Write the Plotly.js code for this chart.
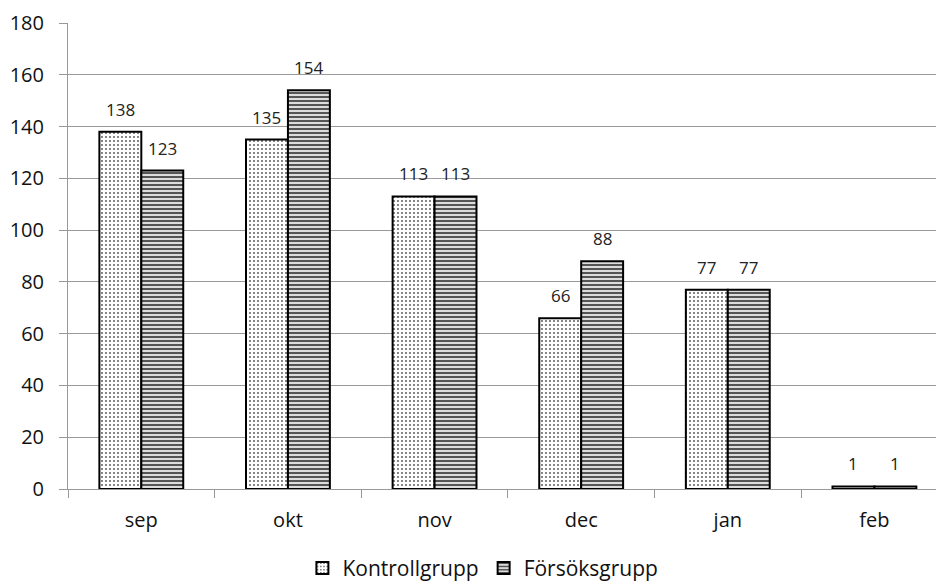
<!DOCTYPE html>
<html>
<head>
<meta charset="utf-8">
<script src="https://cdn.plot.ly/plotly-3.0.1.min.js"></script>
<style>
  html, body { margin: 0; padding: 0; background: #fff; }
  #chart { width: 937px; height: 583px; }
</style>
</head>
<body>
<div id="chart"></div>
<script>
// Monthly counts per group
const months = ['sep', 'okt', 'nov', 'dec', 'jan', 'feb'];
const kontrollgrupp = [138, 135, 113, 66, 77, 1];
const forsoksgrupp = [123, 154, 113, 88, 77, 1];
const yTicks = [0, 20, 40, 60, 80, 100, 120, 140, 160, 180];

const fontFamily = '"Open Sans", "Noto Sans", sans-serif';
const BAR_OFFSET_PX = 21;   // half of one bar's width inside a group

const traces = [
  {
    type: 'bar',
    name: 'Kontrollgrupp',
    x: months,
    y: kontrollgrupp,
    marker: {
      color: '#ffffff',
      line: { color: '#000', width: 2 },
      pattern: { shape: '.', fgcolor: '#555', bgcolor: '#ffffff', size: 4, solidity: 0.18 }
    }
  },
  {
    type: 'bar',
    name: 'Försöksgrupp',
    x: months,
    y: forsoksgrupp,
    marker: {
      color: '#ffffff',
      line: { color: '#000', width: 2 },
      pattern: { shape: '-', fgcolor: '#555', bgcolor: '#dcdcdc', size: 4, solidity: 0.5 }
    }
  }
];

// Value labels above each bar
function valueLabels(values, shift) {
  return values.map((v, i) => ({
    x: months[i],
    y: v,
    xref: 'x',
    yref: 'y',
    text: String(v),
    showarrow: false,
    xanchor: 'center',
    yanchor: 'bottom',
    xshift: shift,
    yshift: 9,
    font: { family: fontFamily, size: 17, color: '#222' }
  }));
}

const layout = {
  width: 937,
  height: 583,
  margin: { l: 68, r: 1, t: 23, b: 94, autoexpand: false },
  paper_bgcolor: '#fff',
  plot_bgcolor: '#fff',
  barmode: 'group',
  bargap: 0.428,
  bargroupgap: 0,
  font: { family: fontFamily, size: 20, color: '#111' },
  showlegend: true,
  legend: {
    orientation: 'h',
    x: 0.478, xanchor: 'center',
    yref: 'container',
    y: 0.025, yanchor: 'middle',
    font: { family: fontFamily, size: 21, color: '#111' },
    itemwidth: 30,
    traceorder: 'normal'
  },
  annotations: valueLabels(kontrollgrupp, -BAR_OFFSET_PX)
    .concat(valueLabels(forsoksgrupp, BAR_OFFSET_PX)),
  xaxis: {
    type: 'category',
    // the last category runs slightly past the right edge
    range: [-0.5, 5.42],
    showline: true,
    linecolor: '#999',
    linewidth: 1,
    ticks: 'outside',
    tickson: 'boundaries',
    ticklen: 8,
    tickcolor: '#999',
    showgrid: false,
    ticklabelstandoff: 13,
    tickfont: { family: fontFamily, size: 20, color: '#111' }
  },
  yaxis: {
    range: [0, 180],
    tickvals: yTicks,
    ticktext: yTicks.map(String),
    showline: true,
    linecolor: '#999',
    linewidth: 1,
    ticks: 'outside',
    ticklen: 8,
    tickcolor: '#999',
    showgrid: true,
    gridcolor: '#999',
    gridwidth: 1,
    zeroline: false,
    ticklabelstandoff: 11,
    tickfont: { family: fontFamily, size: 20, color: '#111' }
  }
};

Plotly.newPlot('chart', traces, layout, { displayModeBar: false, staticPlot: true });
</script>
</body>
</html>
